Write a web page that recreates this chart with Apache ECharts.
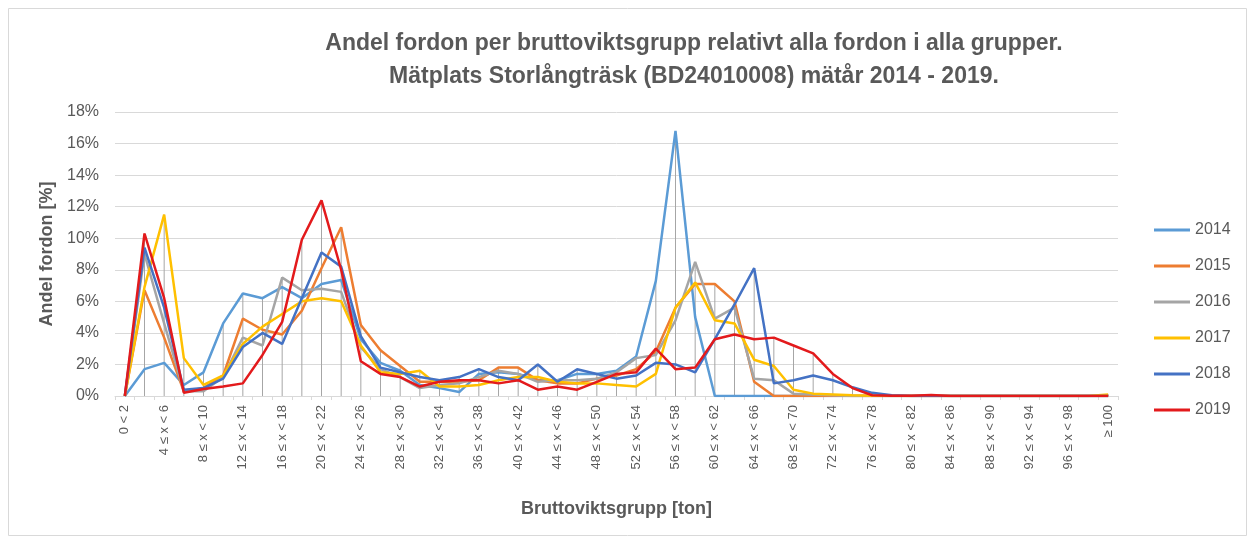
<!DOCTYPE html>
<html>
<head>
<meta charset="utf-8">
<script src="https://cdn.jsdelivr.net/npm/echarts@6/dist/echarts.min.js"></script>
<style>
  html, body { margin: 0; padding: 0; background: #fff; }
  #chart { width: 1255px; height: 545px; }
</style>
</head>
<body>
<div id="chart"></div>
<script>
// weight groups (ton)
var categories = ['0 < 2'];
for (var k = 2; k < 100; k += 2) categories.push(k + ' \u2264 x < ' + (k + 2));
categories.push('\u2265 100');

var years = ['2014', '2015', '2016', '2017', '2018', '2019'];
var colors = ['#5B9BD5', '#ED7D31', '#A5A5A5', '#FFC000', '#4472C4', '#E31A1C'];

// share of vehicles [%], one value per weight group
var v2014 = [0, 1.7, 2.1, 0.7, 1.5, 4.6, 6.5, 6.2, 6.9, 6.2, 7.1, 7.35, 3.6, 2.1, 1.6, 0.7, 0.5, 0.25, 1.4, 1.5,
  1.4, 1.0, 1.0, 1.4, 1.4, 1.6, 2.5, 7.3, 16.8, 5.0, 0, 0, 0, 0, 0, 0, 0, 0, 0, 0,
  0, 0, 0, 0, 0, 0, 0, 0, 0, 0, 0];
var v2015 = [0, 6.7, 3.7, 0.3, 0.5, 1.3, 4.9, 4.2, 3.9, 5.4, 8.1, 10.7, 4.5, 2.9, 1.9, 0.9, 0.9, 0.9, 1.0, 1.8,
  1.8, 1.0, 0.8, 0.8, 1.1, 1.3, 1.7, 2.8, 5.6, 7.1, 7.1, 6.0, 0.9, 0, 0, 0, 0, 0, 0, 0,
  0, 0, 0, 0, 0, 0, 0, 0, 0, 0, 0];
var v2016 = [0, 9.0, 4.6, 0.3, 0.3, 1.2, 3.7, 3.2, 7.5, 6.7, 6.8, 6.6, 3.1, 1.7, 1.2, 0.5, 0.7, 0.8, 1.2, 1.6,
  1.4, 0.9, 1.0, 1.0, 1.1, 1.5, 2.4, 2.6, 4.8, 8.5, 4.9, 5.6, 1.1, 1.0, 0.15, 0.1, 0.05, 0, 0, 0,
  0, 0, 0, 0, 0, 0, 0, 0, 0, 0, 0];
var v2017 = [0, 6.9, 11.5, 2.4, 0.7, 1.3, 3.3, 4.4, 5.2, 6.0, 6.2, 6.0, 3.2, 1.5, 1.4, 1.6, 0.6, 0.6, 0.7, 1.0,
  1.2, 1.2, 0.9, 0.8, 0.8, 0.7, 0.6, 1.4, 5.6, 7.2, 4.8, 4.6, 2.3, 1.9, 0.4, 0.15, 0.1, 0.05, 0.02, 0,
  0, 0, 0, 0, 0, 0, 0, 0, 0, 0, 0.1];
var v2018 = [0, 9.4, 5.6, 0.4, 0.5, 1.1, 3.1, 4.0, 3.3, 6.2, 9.1, 8.2, 3.8, 1.8, 1.5, 1.2, 1.0, 1.2, 1.7, 1.2,
  1.0, 2.0, 0.9, 1.7, 1.4, 1.1, 1.3, 2.1, 2.0, 1.5, 3.6, 5.8, 8.1, 0.8, 1.0, 1.3, 1.0, 0.55, 0.2, 0.05,
  0, 0, 0, 0, 0, 0, 0, 0, 0, 0, 0];
var v2019 = [0, 10.3, 6.2, 0.2, 0.45, 0.6, 0.8, 2.6, 4.7, 9.9, 12.4, 8.0, 2.2, 1.4, 1.2, 0.6, 0.9, 1.0, 1.0, 0.8,
  1.0, 0.4, 0.6, 0.4, 0.9, 1.4, 1.5, 3.0, 1.7, 1.8, 3.6, 3.9, 3.6, 3.7, 3.2, 2.7, 1.4, 0.5, 0.05, 0.02,
  0.02, 0.06, 0, 0, 0, 0, 0, 0, 0, 0, 0];

var yTicks = [0, 2, 4, 6, 8, 10, 12, 14, 16, 18];

var allSeries = [v2014, v2015, v2016, v2017, v2018, v2019];
// drop lines: from the highest point in each group down to the axis
var dropLines = categories.map(function (c, i) {
  return Math.max.apply(null, allSeries.map(function (s) { return s[i]; }));
});

var font = 'Liberation Sans';
var txt = '#595959';

var series = [{
  name: 'drop',
  type: 'bar',
  barWidth: 1,
  silent: true,
  itemStyle: { color: '#a6a6a6' },
  data: dropLines,
  z: 1
}];
years.forEach(function (y, i) {
  series.push({
    name: y,
    type: 'line',
    symbol: 'none',
    data: allSeries[i],
    lineStyle: { width: 2.5, color: colors[i] },
    itemStyle: { color: colors[i] },
    z: 2 + i
  });
});

var myChart = echarts.init(document.getElementById('chart'));
myChart.setOption({
  animation: false,
  textStyle: { fontFamily: font },
  title: {
    text: 'Andel fordon per bruttoviktsgrupp relativt alla fordon i alla grupper.\nMätplats Storlångträsk (BD24010008) mätår 2014 - 2019.',
    left: 689,
    top: 22,
    textAlign: 'center',
    textStyle: { fontFamily: font, fontSize: 23, fontWeight: 'bold', color: txt, lineHeight: 33 }
  },
  legend: {
    data: years,
    orient: 'vertical',
    left: 1149,
    top: 217,
    icon: 'rect',
    itemWidth: 36,
    itemHeight: 3,
    itemGap: 20,
    textStyle: { fontSize: 16, color: txt, fontFamily: font, lineHeight: 16, padding: [0, 0, 0, 0] }
  },
  grid: { left: 115, right: 137, top: 112, bottom: 149 },
  xAxis: {
    type: 'category',
    data: categories,
    boundaryGap: true,
    name: 'Bruttoviktsgrupp [ton]',
    nameLocation: 'middle',
    nameGap: 104,
    nameTextStyle: { fontSize: 18, fontWeight: 'bold', color: txt },
    axisLine: { lineStyle: { color: '#d9d9d9' } },
    axisTick: { show: true, interval: 0, length: 4, lineStyle: { color: '#d9d9d9' } },
    axisLabel: { interval: 1, rotate: 90, fontSize: 13, color: txt, margin: 9 }
  },
  yAxis: {
    type: 'value',
    min: yTicks[0],
    max: yTicks[yTicks.length - 1],
    interval: 2,
    name: 'Andel fordon [%]',
    nameLocation: 'middle',
    nameGap: 58,
    nameTextStyle: { fontSize: 18, fontWeight: 'bold', color: txt },
    axisLine: { show: false },
    axisTick: { show: false },
    splitLine: { lineStyle: { color: '#d9d9d9' } },
    axisLabel: { formatter: '{value}%', fontSize: 16, color: txt, margin: 16 }
  },
  graphic: [{
    type: 'rect',
    shape: { x: 8.5, y: 8.5, width: 1238, height: 527 },
    style: { fill: 'none', stroke: '#d9d9d9', lineWidth: 1 },
    silent: true
  }],
  series: series
});
</script>
</body>
</html>
